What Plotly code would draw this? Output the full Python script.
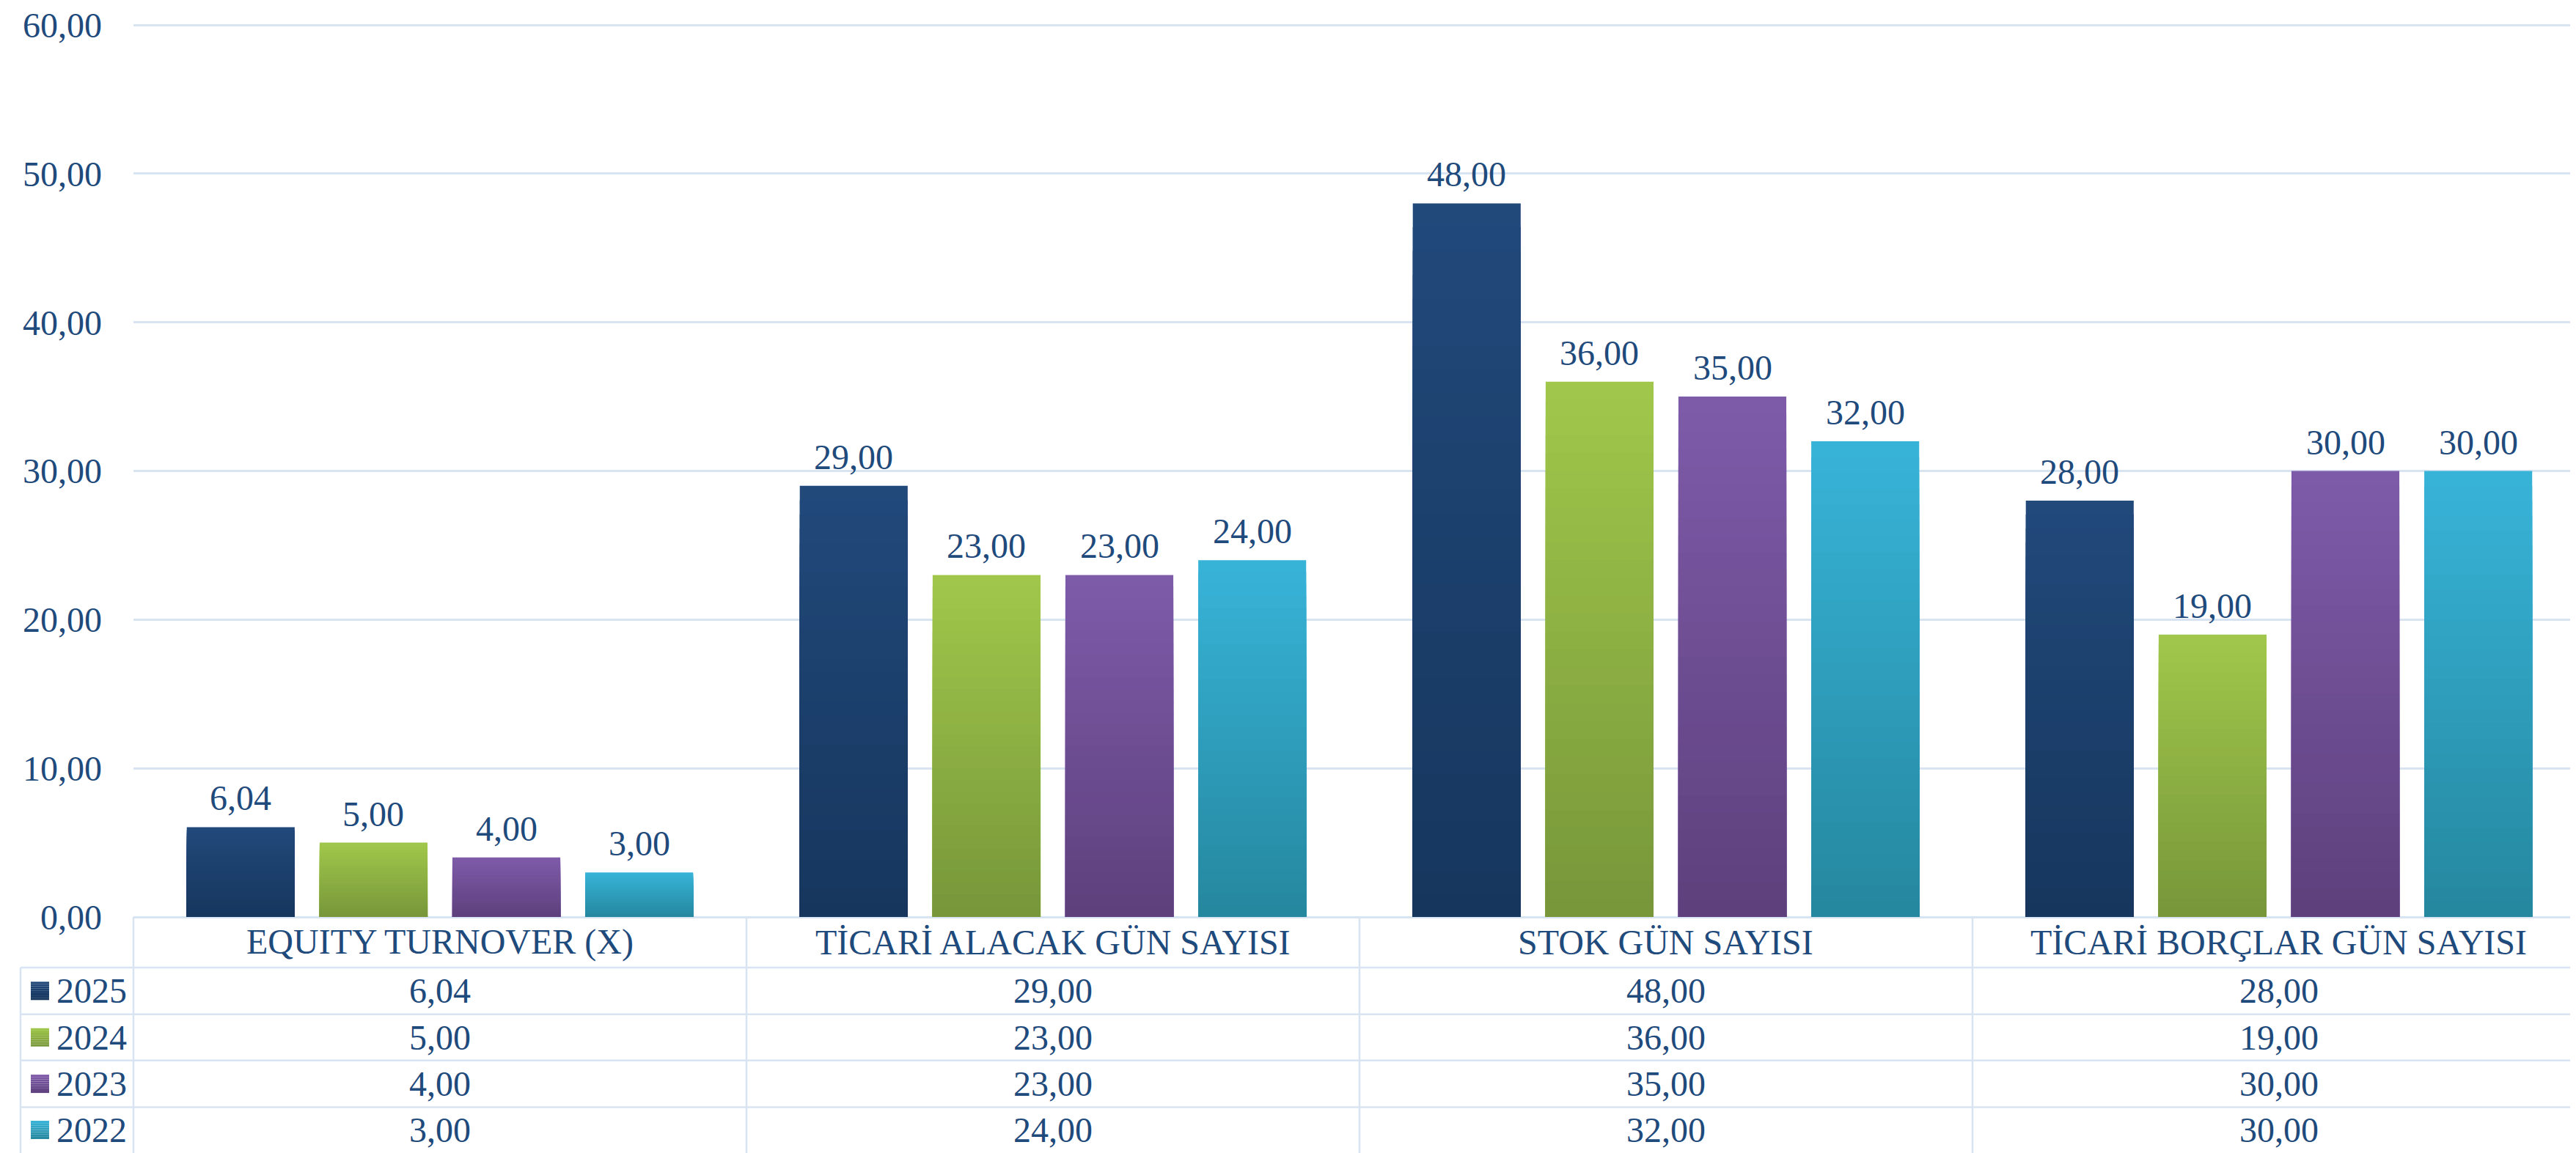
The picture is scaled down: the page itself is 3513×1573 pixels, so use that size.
import plotly.graph_objects as go

# ---------------- data ----------------
categories = ["EQUITY TURNOVER (X)", "TİCARİ ALACAK GÜN SAYISI", "STOK GÜN SAYISI", "TİCARİ BORÇLAR GÜN SAYISI"]
series_names = ["2025", "2024", "2023", "2022"]
values_2025 = [6.04, 29.00, 48.00, 28.00]
values_2024 = [5.00, 23.00, 36.00, 19.00]
values_2023 = [4.00, 23.00, 35.00, 30.00]
values_2022 = [3.00, 24.00, 32.00, 30.00]
y_ticks = [0, 10, 20, 30, 40, 50, 60]

series_values = [values_2025, values_2024, values_2023, values_2022]

# ---------------- style ----------------
FONT = "Times New Roman, Liberation Serif, serif"
TXT = "#1F4A7C"
GRID = "#D8E4F2"
top_colors = ["#21497B", "#A1C84B", "#7F5BAA", "#38B4D9"]
bot_colors = ["#16365D", "#77963A", "#5D407C", "#25879E"]
bar_centers = [-0.3250, -0.1083, 0.1083, 0.3250]
bar_width = 0.176
N_LAYERS = 30

OFF = 8                      # page body margin
W, H = 3513 - OFF, 1573 - OFF
L, T = 182 - OFF, 30 - OFF
PLOT_BOTTOM = 1251 - OFF
B = H - PLOT_BOTTOM
PLOT_H = PLOT_BOTTOM - T
PLOT_W = W - L
Y_MAX = 60.1


def hx(c):
    c = c.lstrip("#")
    return [int(c[i:i + 2], 16) for i in (0, 2, 4)]


def mix(c1, c2, t):
    a, b = hx(c1), hx(c2)
    return "rgb(%d,%d,%d)" % tuple(round(a[i] + (b[i] - a[i]) * t) for i in range(3))


def py(ypix):
    # screen pixel -> paper
    return (PLOT_BOTTOM - (ypix - OFF)) / PLOT_H


def px(xpix):
    return (xpix - OFF - L) / PLOT_W


def fmt(v):
    return f"{v:.2f}".replace(".", ",")


fig = go.Figure()

# gradient bars built as overlaid layers of the same bar
for j, (name, vals) in enumerate(zip(series_names, series_values)):
    for k in range(N_LAYERS):
        frac = (N_LAYERS - k) / N_LAYERS
        t = (k + 0.5) / N_LAYERS
        fig.add_trace(go.Bar(
            x=categories,
            y=[v * frac for v in vals],
            name=name,
            offset=bar_centers[j] - bar_width / 2,
            width=bar_width,
            marker=dict(color=mix(top_colors[j], bot_colors[j], t), line=dict(width=0)),
            hoverinfo="skip",
            showlegend=False,
        ))

annotations = []
# data labels above bars
for j, vals in enumerate(series_values):
    for i, v in enumerate(vals):
        annotations.append(dict(
            x=i + bar_centers[j], y=v, xref="x", yref="y",
            text=fmt(v), showarrow=False, yanchor="bottom", xanchor="center",
            yshift=11, font=dict(family=FONT, size=48, color=TXT),
        ))

# data table (screen pixel rows)
row_edges = [1251, 1320, 1384, 1447, 1511, 1573]
row_centers = [(row_edges[r] + row_edges[r + 1]) / 2 for r in range(5)]

for i, cat in enumerate(categories):
    annotations.append(dict(
        x=i, y=py(row_centers[0]), xref="x", yref="paper", text=cat,
        showarrow=False, xanchor="center", yanchor="middle",
        font=dict(family=FONT, size=48, color=TXT),
    ))
    for j, vals in enumerate(series_values):
        annotations.append(dict(
            x=i, y=py(row_centers[j + 1]), xref="x", yref="paper", text=fmt(vals[i]),
            showarrow=False, xanchor="center", yanchor="middle",
            font=dict(family=FONT, size=48, color=TXT),
        ))

shapes = []
for j, name in enumerate(series_names):
    yc = row_centers[j + 1]
    annotations.append(dict(
        x=px(75), y=py(yc), xref="paper", yref="paper", text=name,
        showarrow=False, xanchor="left", yanchor="middle",
        font=dict(family=FONT, size=48, color=TXT),
    ))
    n_sl = 8
    for s in range(n_sl):
        y_top = yc - 12.5 + 25 * s / n_sl
        y_bot = yc - 12.5 + 25 * (s + 1) / n_sl
        shapes.append(dict(
            type="rect", xref="paper", yref="paper",
            x0=px(42), x1=px(67), y0=py(y_bot), y1=py(y_top),
            fillcolor=mix(top_colors[j], bot_colors[j], (s + 0.5) / n_sl),
            line=dict(width=0), layer="above",
        ))

# horizontal table lines
for yl in row_edges[1:5]:
    shapes.append(dict(type="line", xref="paper", yref="paper",
                       x0=px(28), x1=1, y0=py(yl), y1=py(yl),
                       line=dict(color=GRID, width=2.5)))
# vertical table lines
shapes.append(dict(type="line", xref="paper", yref="paper",
                   x0=px(28), x1=px(28), y0=py(row_edges[1]), y1=py(1580),
                   line=dict(color=GRID, width=2.5)))
shapes.append(dict(type="line", xref="paper", yref="paper",
                   x0=0, x1=0, y0=0, y1=py(1580),
                   line=dict(color=GRID, width=2.5)))
for b in [0.5, 1.5, 2.5]:
    shapes.append(dict(type="line", xref="x", yref="paper",
                       x0=b, x1=b, y0=0, y1=py(1580),
                       line=dict(color=GRID, width=2.5)))

fig.update_layout(
    width=W, height=H,
    margin=dict(l=L, r=0, t=T, b=B, pad=0),
    paper_bgcolor="white", plot_bgcolor="white",
    barmode="overlay", showlegend=False, separators=",.",
    font=dict(family=FONT, size=48, color=TXT),
    annotations=annotations, shapes=shapes,
    xaxis=dict(type="category", categoryorder="array", categoryarray=categories,
               range=[-0.5, 3.4845], showticklabels=False, showgrid=False,
               zeroline=False, showline=False, ticks="", fixedrange=True),
    yaxis=dict(range=[0, Y_MAX], tickvals=y_ticks, tickformat=".2f",
               showgrid=True, gridcolor=GRID, gridwidth=2.5,
               zeroline=True, zerolinecolor=GRID, zerolinewidth=2.5,
               showline=False, ticks="", ticklabelstandoff=42,
               ticklabeloverflow="allow",
               tickfont=dict(family=FONT, size=48, color=TXT), fixedrange=True),
)

fig.write_html("out.html")
